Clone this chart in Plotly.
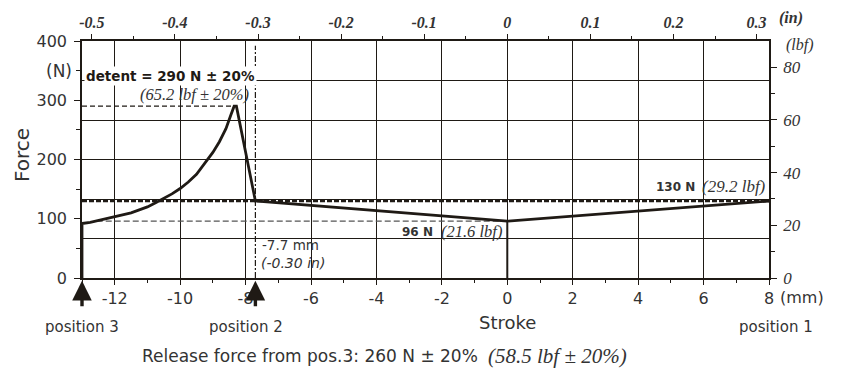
# import
import plotly.graph_objects as go

# data
stroke_mm = [-13, -13, -12.75, -12.5, -12.25, -12, -11.75, -11.5, -11.25, -11, -10.75, -10.5, -10.25, -10,
             -9.75, -9.5, -9.25, -9.0, -8.8, -8.6, -8.45, -8.35, -8.28, -7.7, 0, 8]
force_n = [0, 92, 94, 97, 100, 103, 106, 110, 115, 120, 127, 134, 142, 151,
           162, 175, 193, 212, 230, 252, 275, 290, 290, 130, 96, 130]
zero_drop_x = [0, 0]
zero_drop_y = [96, 0]

x_mm_ticks = [-12, -10, -8, -6, -4, -2, 0, 2, 4, 6, 8]
x_mm_labels = ['-12', '-10', '-8', '-6', '-4', '-2', '0', '2', '4', '6', '8']
x_in_ticks = [-0.5, -0.4, -0.3, -0.2, -0.1, 0, 0.1, 0.2, 0.3]
x_in_labels = ['-0.5', '-0.4', '-0.3', '-0.2', '-0.1', '0', '0.1', '0.2', '0.3']

DETENT_N = 290
PEAK_MM = -8.35
POS2_MM = -7.7
RETURN_N = 130
MIN_N = 96
START_MM = -13
END_MM = 8

MM_PER_IN = 25.4
N_PER_LBF = 4.44822

LINE = '#1f1a15'
TXT = '#333333'
SANS = 'DejaVu Sans'
SERIF = 'Liberation Serif'

fig = go.Figure()

# reference lines
fig.add_trace(go.Scatter(x=[START_MM, PEAK_MM], y=[DETENT_N, DETENT_N], mode='lines',
                         line=dict(color=LINE, width=1.3, dash='5px,3px'), hoverinfo='skip'))
fig.add_trace(go.Scatter(x=[-12.55, 0], y=[MIN_N, MIN_N], mode='lines',
                         line=dict(color='#555555', width=1.2, dash='6px,3px'), hoverinfo='skip'))
fig.add_trace(go.Scatter(x=[START_MM, END_MM], y=[RETURN_N, RETURN_N], mode='lines',
                         line=dict(color=LINE, width=2.6, dash='5px,2px'), hoverinfo='skip'))
fig.add_trace(go.Scatter(x=[POS2_MM, POS2_MM], y=[0, 392], mode='lines',
                         line=dict(color=LINE, width=1.2, dash='6px,2px,2px,2px'), hoverinfo='skip'))

# force curve
fig.add_trace(go.Scatter(x=stroke_mm, y=force_n, mode='lines',
                         line=dict(color=LINE, width=2.8), hoverinfo='skip'))
fig.add_trace(go.Scatter(x=zero_drop_x, y=zero_drop_y, mode='lines',
                         line=dict(color=LINE, width=2), hoverinfo='skip'))

# dummy traces to activate the secondary axes
fig.add_trace(go.Scatter(x=[START_MM / MM_PER_IN], y=[0], xaxis='x2', yaxis='y2', mode='markers',
                         marker=dict(opacity=0), hoverinfo='skip'))
fig.add_trace(go.Scatter(x=[START_MM], y=[0], yaxis='y3', mode='markers',
                         marker=dict(opacity=0), hoverinfo='skip'))

tickfont_sans = dict(family=SANS, size=16, color=TXT)
tickfont_serif = dict(family=SERIF, size=17, color=TXT, style='italic')

fig.update_layout(
    width=846, height=376,
    margin=dict(l=82, r=77, t=41, b=98, autoexpand=False),
    paper_bgcolor='white', plot_bgcolor='white',
    showlegend=False,
    xaxis=dict(range=[START_MM, END_MM], tickvals=x_mm_ticks, ticktext=x_mm_labels, ticks='outside', ticklen=5,
               tickcolor=LINE, showline=True, linecolor=LINE, linewidth=1.5, automargin=False,
               showgrid=True, gridcolor=LINE, gridwidth=1.2, zeroline=False,
               tickfont=tickfont_sans,
               minor=dict(tick0=1, dtick=2, ticks='outside', ticklen=3, tickcolor=LINE, showgrid=False)),
    xaxis2=dict(range=[START_MM / MM_PER_IN, END_MM / MM_PER_IN], overlaying='x', side='top',
                tickvals=x_in_ticks, ticktext=x_in_labels, ticks='outside', ticklen=5, tickcolor=LINE,
                showline=True, linecolor=LINE, linewidth=1.5, showgrid=False, zeroline=False, automargin=False,
                tickfont=dict(family=SERIF, size=16, color=TXT, style='italic', weight='bold'),
                minor=dict(tick0=0.05, dtick=0.1, ticks='outside', ticklen=3, tickcolor=LINE)),
    yaxis=dict(range=[0, 400], tick0=0, dtick=100, ticks='outside', ticklen=6, tickcolor=LINE,
               showline=True, linecolor=LINE, linewidth=1.5, showgrid=False, zeroline=False, automargin=False,
               tickfont=dict(family=SANS, size=16, color=TXT), ticklabelstandoff=4,
               minor=dict(tick0=50, dtick=100, ticks='outside', ticklen=4, tickcolor=LINE)),
    yaxis2=dict(range=[0, 400 / N_PER_LBF], overlaying='y', side='right', anchor='x',
                tick0=0, dtick=20, ticks='outside', ticklen=6, tickcolor=LINE, automargin=False,
                showline=True, linecolor=LINE, linewidth=1.5, showgrid=False, zeroline=False,
                tickfont=tickfont_serif, ticklabelstandoff=3,
                minor=dict(tick0=10, dtick=20, ticks='outside', ticklen=4, tickcolor=LINE)),
    # six-row background grid
    yaxis3=dict(range=[0, 6], overlaying='y', dtick=1, showgrid=True, gridcolor=LINE, gridwidth=1.2,
                showticklabels=False, ticks='', showline=False, zeroline=False, automargin=False),
)

ann = []
# axis labels
ann.append(dict(text='Force', xref='paper', yref='paper', x=-0.087, y=0.52, textangle=-90,
                xanchor='center', yanchor='middle',
                showarrow=False, font=dict(family=SANS, size=20, color=TXT)))
ann.append(dict(text='(N)', xref='paper', yref='y', x=-0.012, y=350, xanchor='right',
                showarrow=False, font=dict(family=SANS, size=17, color=TXT)))
ann.append(dict(text='(lbf)', xref='paper', yref='paper', x=1.045, y=0.985,
                xanchor='center', yanchor='middle',
                showarrow=False, font=dict(family=SERIF, size=16, color=TXT, style='italic')))
ann.append(dict(text='(in)', xref='paper', yref='paper', x=1.012, y=1.097, xanchor='left', yanchor='middle',
                showarrow=False, font=dict(family=SERIF, size=16, color=TXT, style='italic', weight='bold')))
ann.append(dict(text='(mm)', xref='x', yref='paper', x=END_MM, xshift=9, y=-0.082, xanchor='left',
                yanchor='middle', showarrow=False, font=tickfont_sans))
ann.append(dict(text='Stroke', xref='x', yref='paper', x=0, y=-0.186, yanchor='middle',
                showarrow=False, font=dict(family=SANS, size=18, color=TXT)))
# positions
ann.append(dict(text='position 3', xref='x', yref='paper', x=START_MM, y=-0.205, yanchor='middle',
                showarrow=False, font=dict(family=SANS, size=15, color=TXT)))
ann.append(dict(text='position 2', xref='x', yref='paper', x=-8.0, y=-0.205, yanchor='middle',
                showarrow=False, font=dict(family=SANS, size=15, color=TXT)))
ann.append(dict(text='position 1', xref='paper', yref='paper', x=1.010, y=-0.205, yanchor='middle',
                xanchor='center', showarrow=False, font=dict(family=SANS, size=15, color=TXT)))
for xa in [START_MM, POS2_MM]:
    ann.append(dict(text='', xref='x', yref='paper', x=xa, y=-0.012, ax=0, ay=27,
                    showarrow=True, arrowhead=2, arrowsize=1.15, arrowwidth=3.4, arrowcolor=LINE))
# value labels
ann.append(dict(text='<b>detent = 290 N ± 20%</b>', xref='x', yref='y', x=-12.95, y=341, xanchor='left',
                showarrow=False, bgcolor='white', font=dict(family=SANS, size=13.5, color=LINE)))
ann.append(dict(text='(65.2 lbf ± 20%)', xref='x', yref='y', x=-7.84, y=309, xanchor='right',
                showarrow=False, font=dict(family=SERIF, size=16.5, color=TXT, style='italic')))
ann.append(dict(text='-7.7 mm', xref='x', yref='y', x=-7.55, y=56, xanchor='left',
                showarrow=False, font=dict(family=SANS, size=13.5, color=TXT)))
ann.append(dict(text='(-0.30 in)', xref='x', yref='y', x=-7.58, y=25, xanchor='left',
                showarrow=False, font=dict(family=SANS, size=14, color=TXT, style='italic')))
ann.append(dict(text='<b>96 N</b>', xref='x', yref='y', x=-2.2, y=78, xanchor='right',
                showarrow=False, font=dict(family=SANS, size=12, color=TXT)))
ann.append(dict(text='(21.6 lbf)', xref='x', yref='y', x=-2.1, y=78, xanchor='left',
                showarrow=False, font=dict(family=SERIF, size=16.5, color=TXT, style='italic')))
ann.append(dict(text='<b>130 N</b>', xref='x', yref='y', x=5.8, y=154, xanchor='right',
                showarrow=False, font=dict(family=SANS, size=12, color=TXT)))
ann.append(dict(text='(29.2 lbf)', xref='x', yref='y', x=5.9, y=154, xanchor='left',
                showarrow=False, font=dict(family=SERIF, size=17, color=TXT, style='italic')))
# footer
ann.append(dict(text='Release force from pos.3: 260 N ± 20%', xref='paper', yref='paper', x=0.579, y=-0.33,
                xanchor='right', yanchor='middle', showarrow=False, font=dict(family=SANS, size=17, color=TXT)))
ann.append(dict(text='(58.5 lbf ± 20%)', xref='paper', yref='paper', x=0.588, y=-0.33,
                xanchor='left', yanchor='middle', showarrow=False,
                font=dict(family=SERIF, size=21, color=TXT, style='italic')))

fig.update_layout(annotations=ann)

# the page's default body margin would shift the figure by 8px
fig.write_html('out.html', config={'displayModeBar': False},
               post_script="document.body.style.margin='0';")
